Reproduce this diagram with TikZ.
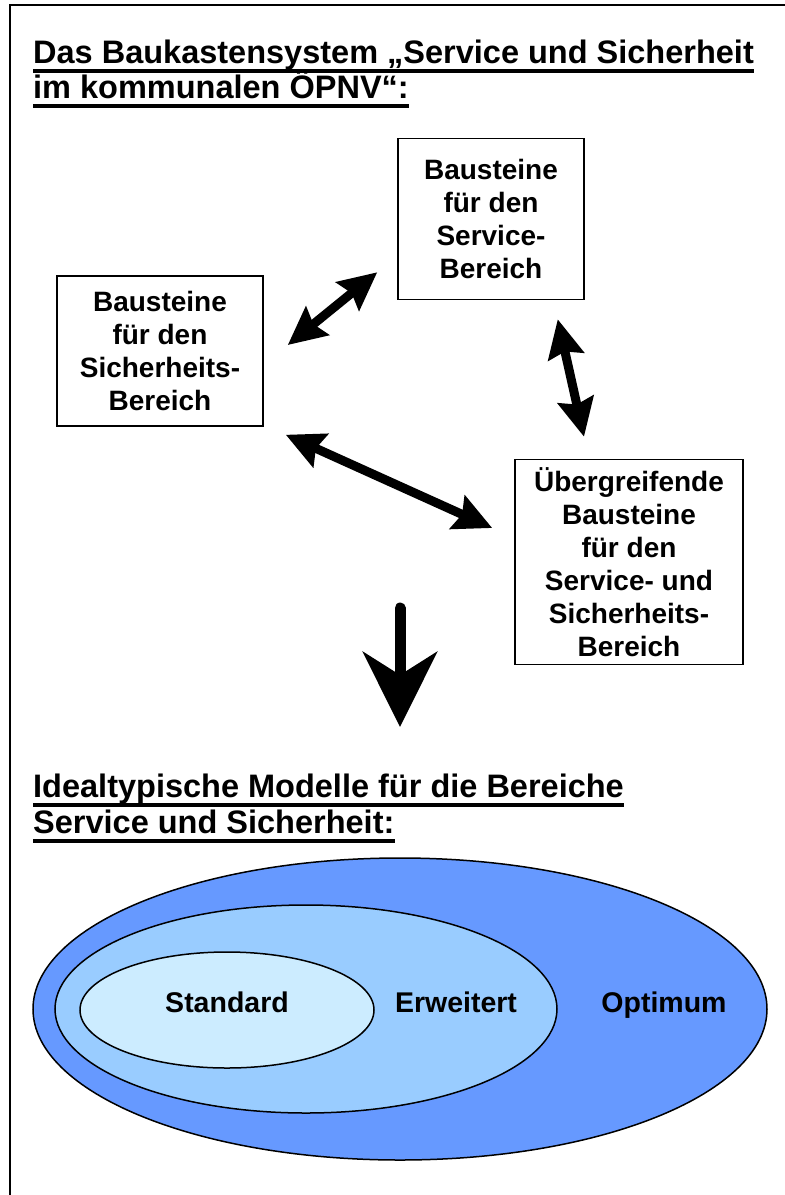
\documentclass[tikz,border=0pt]{standalone}
\usepackage{fontspec}
\setmainfont{Liberation Sans}
\usetikzlibrary{arrows.meta,calc,positioning}
\definecolor{optblue}{HTML}{6699FF}
\definecolor{erwblue}{HTML}{99CCFF}
\definecolor{stdblue}{HTML}{CCECFF}
\tikzset{
  baustein/.style = {draw, line width=1.5pt, align=center, inner sep=0pt,
                     font=\bfseries\fontsize{28}{33}\selectfont},
  heading/.style  = {anchor=base west, inner sep=0pt,
                     font=\bfseries\fontsize{32.5}{39}\selectfont},
  uline/.style    = {line width=4.5pt},
  dblarr/.style   = {{Stealth[length=38pt,width=36pt,inset=5pt]}-{Stealth[length=38pt,width=36pt,inset=5pt]},
                     line width=9pt},
  bigarr/.style   = {-{Stealth[length=75pt,width=74pt,inset=23pt]}, line width=11pt, line cap=round},
  modell/.style   = {draw, line width=1.5pt},
  mlabel/.style   = {anchor=base, inner sep=0pt, font=\bfseries\fontsize{28.5}{34}\selectfont},
}

\begin{document}
\begin{tikzpicture}[x=1pt,y=-1pt]
  \useasboundingbox (0,0) rectangle (785,1195);
  % frame
  \draw[line width=2pt] (10,1195) -- (10,5) -- (785,5);

  % first heading
  \node[heading] (h1a) at (33,63) {Das Baukastensystem „Service und Sicherheit};
  \node[heading] (h1b) at (33,98) {im kommunalen ÖPNV“:};
  \draw[uline] ([yshift=-8pt]h1a.base west) -- ([yshift=-8pt]h1a.base east);
  \draw[uline] ([yshift=-8pt]h1b.base west) -- ([yshift=-8pt]h1b.base east);

  % building blocks
  \node[baustein, minimum width=186pt, minimum height=161pt] (serv) at (491,219)
    {Bausteine\\für den\\Service-\\Bereich};
  \node[baustein, minimum width=206pt, minimum height=150pt] (sich) at (160,351)
    {Bausteine\\für den\\Sicherheits-\\Bereich};
  \node[baustein, minimum width=228pt, minimum height=205pt] (ueb) at (629,562)
    {Übergreifende\\Bausteine\\für den\\Service- und\\Sicherheits-\\Bereich};

  \draw[dblarr] ($(sich.east)+(24,-6)$) -- ($(serv.south west)+(-20,-28)$);
  \draw[dblarr] ($(serv.south east)+(-27,19)$) -- ($(ueb.north)+(-45,-22)$);
  \draw[dblarr] ($(sich.south east)+(22,8)$) -- ($(ueb.west)+(-22,-34)$);

  % down arrow
  \coordinate (pfeiloben) at (400,608);
  \coordinate (pfeilunten) at (400,727);
  \draw[bigarr] (pfeiloben) -- (pfeilunten);

  % second heading
  \node[heading] (h2a) at (33,797) {Idealtypische Modelle für die Bereiche};
  \node[heading] (h2b) at (33,833) {Service und Sicherheit:};
  \draw[uline] ([yshift=-8pt]h2a.base west) -- ([yshift=-8pt]h2a.base east);
  \draw[uline] ([yshift=-8pt]h2b.base west) -- ([yshift=-8pt]h2b.base east);

  % models
  \filldraw[modell, fill=optblue] (400,1009) ellipse [x radius=367pt, y radius=151pt];
  \filldraw[modell, fill=erwblue] (306,1009) ellipse [x radius=251pt, y radius=104pt];
  \filldraw[modell, fill=stdblue] (227,1010) ellipse [x radius=147pt, y radius=58pt];
  \node[mlabel] (std) at (227,1012) {Standard};
  \node[mlabel] (erw) at (456,1012) {Erweitert};
  \node[mlabel] (opt) at (664,1012) {Optimum};
\end{tikzpicture}
\end{document}
